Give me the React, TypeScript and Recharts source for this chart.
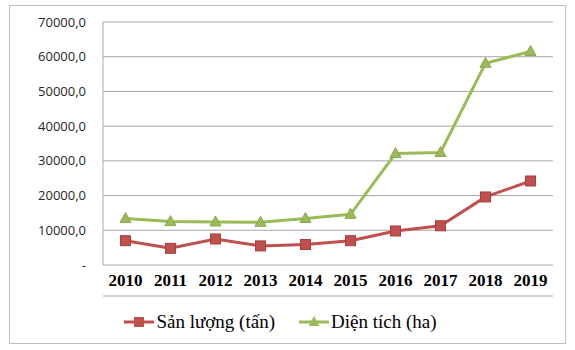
import React from 'react';
import { LineChart, Line, XAxis, YAxis, CartesianGrid, Legend } from 'recharts';

const years = ['2010', '2011', '2012', '2013', '2014', '2015', '2016', '2017', '2018', '2019'];
const sanLuong = [7000, 4800, 7500, 5500, 5900, 7000, 9800, 11300, 19600, 24200];
const dienTich = [13400, 12500, 12400, 12300, 13400, 14600, 32100, 32400, 58100, 61500];
const yTicks = [0, 10000, 20000, 30000, 40000, 50000, 60000, 70000];
const boundaryTicks = [0, 1, 2, 3, 4, 5, 6, 7, 8, 9, 10];

const RED = '#c0504d';
const GREEN = '#9bbb59';
const GRID = '#a6a6a6';

const data = years.map((year, i) => ({
  year,
  pos: i + 0.5,
  sanLuong: sanLuong[i],
  dienTich: dienTich[i],
}));

const fmtY = (v: number) => (v === 0 ? '-' : v.toFixed(1).replace('.', ','));

const SquareDot = (props: any) => {
  const { cx, cy } = props;
  if (cx == null || cy == null) return null;
  return <rect x={cx - 5} y={cy - 5} width={10} height={10} fill={RED} stroke="#a5403d" strokeWidth={1} />;
};

const TriangleDot = (props: any) => {
  const { cx, cy } = props;
  if (cx == null || cy == null) return null;
  return <polygon points={`${cx},${cy - 6} ${cx + 5.5},${cy + 4} ${cx - 5.5},${cy + 4}`} fill={GREEN} stroke="#8aa84e" strokeWidth={1} />;
};

const legendItems = [
  { label: 'Sản lượng (tấn)', color: RED, shape: 'square' },
  { label: 'Diện tích (ha)', color: GREEN, shape: 'triangle' },
];

const LegendContent = () => (
  <div style={{ display: 'flex', justifyContent: 'center', alignItems: 'center', gap: 24, height: 40 }}>
    {legendItems.map((it) => (
      <div key={it.label} style={{ display: 'flex', alignItems: 'center' }}>
        <svg width={30} height={16}>
          <line x1={0} y1={8} x2={30} y2={8} stroke={it.color} strokeWidth={3} />
          {it.shape === 'square' ? (
            <rect x={10} y={3} width={10} height={10} fill={it.color} />
          ) : (
            <polygon points="15,2 20.5,12 9.5,12" fill={it.color} />
          )}
        </svg>
        <span style={{ fontFamily: '"Liberation Serif", serif', fontSize: 19, color: '#000', marginLeft: 2 }}>
          {it.label}
        </span>
      </div>
    ))}
  </div>
);

export default function App() {
  return (
    <div style={{ position: 'absolute', left: 0, top: 0, width: 575, height: 350, background: '#fff' }}>
      <div
        style={{
          position: 'absolute',
          left: 9,
          top: 5,
          width: 555,
          height: 337,
          border: '1px solid #bfbfbf',
        }}
      />
      <LineChart width={575} height={350} data={data} margin={{ top: 22, right: 22, left: 8, bottom: 8 }}>
        <CartesianGrid xAxisId="num" stroke={GRID} vertical={false} />
        <XAxis
          xAxisId="num"
          dataKey="pos"
          type="number"
          domain={[0, 10]}
          ticks={boundaryTicks}
          tick={false}
          height={6}
          tickSize={5}
          axisLine={{ stroke: GRID }}
          tickLine={{ stroke: GRID }}
        />
        <XAxis
          xAxisId="labels"
          dataKey="year"
          scale="band"
          height={31}
          axisLine={false}
          tickLine={false}
          tickSize={0}
          tickMargin={9}
          interval={0}
          tick={{ fontFamily: '"Liberation Serif", serif', fontWeight: 700, fontSize: 17, fill: '#000' }}
        />
        <YAxis
          width={95}
          domain={[0, 70000]}
          ticks={yTicks}
          tickFormatter={fmtY}
          axisLine={{ stroke: GRID }}
          tickLine={false}
          tickSize={0}
          tickMargin={17}
          tick={{ fontFamily: '"Open Sans", sans-serif', fontSize: 13, fill: '#262626' }}
        />
        <Legend verticalAlign="bottom" height={40} content={<LegendContent />} />
        <Line
          xAxisId="num"
          dataKey="sanLuong"
          stroke={RED}
          strokeWidth={3}
          dot={<SquareDot />}
          activeDot={false}
          isAnimationActive={false}
        />
        <Line
          xAxisId="num"
          dataKey="dienTich"
          stroke={GREEN}
          strokeWidth={3}
          dot={<TriangleDot />}
          activeDot={false}
          isAnimationActive={false}
        />
      </LineChart>
    </div>
  );
}
